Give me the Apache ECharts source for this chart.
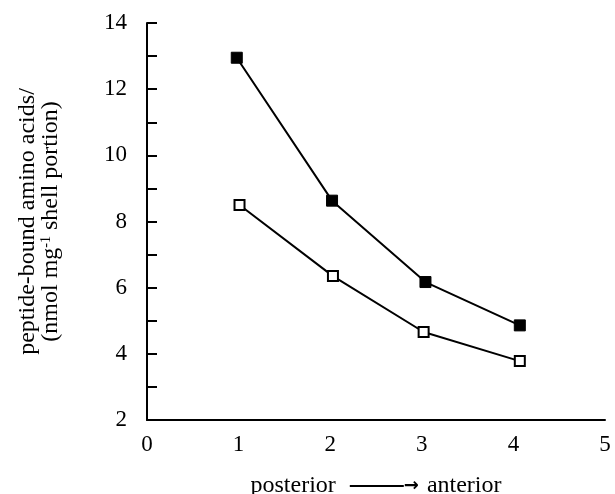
<!DOCTYPE html>
<html><head><meta charset="utf-8">
<script src="https://cdn.jsdelivr.net/npm/echarts@6/dist/echarts.min.js"></script>
<style>html,body{margin:0;padding:0;background:#fff}#c{width:615px;height:494px}</style>
</head><body><div id="c"></div>
<script>
var filledX = [0.98, 2.02, 3.04, 4.07];
var filledY = [12.95, 8.63, 6.17, 4.86];
var openX = [1.01, 2.03, 3.02, 4.07];
var openY = [8.5, 6.35, 4.66, 3.78];
var xTicks = [0, 1, 2, 3, 4, 5];
var yTickLabels = [2, 4, 6, 8, 10, 12, 14];

function pairs(xs, ys){ return xs.map(function(x,i){return [x, ys[i]];}); }
var FONT = '"Liberation Serif","Times New Roman",serif';
var chart = echarts.init(document.getElementById('c'));
chart.setOption({
  animation:false,
  backgroundColor:'#fff',
  grid:{left:147, top:23, width:458, height:397, containLabel:false, outerBoundsMode:'none'},
  xAxis:{type:'value', min:0, max:5, interval:1,
    axisLine:{lineStyle:{color:'#000', width:2}},
    axisTick:{show:false}, splitLine:{show:false},
    axisLabel:{color:'#000', fontFamily:FONT, fontSize:23, margin:13,
      formatter:function(v){return xTicks.indexOf(v)>=0? String(v):'';}},
    name:'{a|posterior}{g1|}{ln|}{hd|→}{g2|}{a|anterior}', nameLocation:'middle', nameGap:54,
    nameTextStyle:{color:'#000', fontFamily:FONT, fontSize:24,
      rich:{a:{fontFamily:FONT, fontSize:24, color:'#000'},
            g1:{width:14, height:2},
            g2:{width:8, height:2},
            ln:{width:54, height:2, backgroundColor:'#000'},
            hd:{fontFamily:'"DejaVu Sans"', fontSize:18, fontWeight:'bold', color:'#000'}}}
  },
  yAxis:{type:'value', min:2, max:14, interval:1,
    axisLine:{lineStyle:{color:'#000', width:2}},
    axisTick:{inside:true, length:10, lineStyle:{color:'#000', width:2}},
    splitLine:{show:false},
    axisLabel:{color:'#000', fontFamily:FONT, fontSize:23, margin:20,
      formatter:function(v){return yTickLabels.indexOf(v)>=0? String(v):'';}},
    name:'{a|peptide-bound amino acids/}\n{a|(nmol mg}{sup|-1}{a| shell portion)}',
    nameLocation:'middle', nameGap:85, nameRotate:90,
    nameTextStyle:{color:'#000', fontFamily:FONT, fontSize:24, lineHeight:23,
      rich:{a:{fontFamily:FONT, fontSize:24, color:'#000', lineHeight:23},
            sup:{fontFamily:FONT, fontSize:14, color:'#000', verticalAlign:'top', lineHeight:23, padding:[0,0,8,0]}}}
  },
  series:[
    {type:'line', data:pairs(filledX, filledY), symbol:'rect', symbolSize:11,
      lineStyle:{color:'#000', width:2}, itemStyle:{color:'#000', borderColor:'#000', borderWidth:1}},
    {type:'line', data:pairs(openX, openY), symbol:'rect', symbolSize:10,
      lineStyle:{color:'#000', width:2}, itemStyle:{color:'#fff', borderColor:'#000', borderWidth:2}, z:3}
  ]
});
</script></body></html>
